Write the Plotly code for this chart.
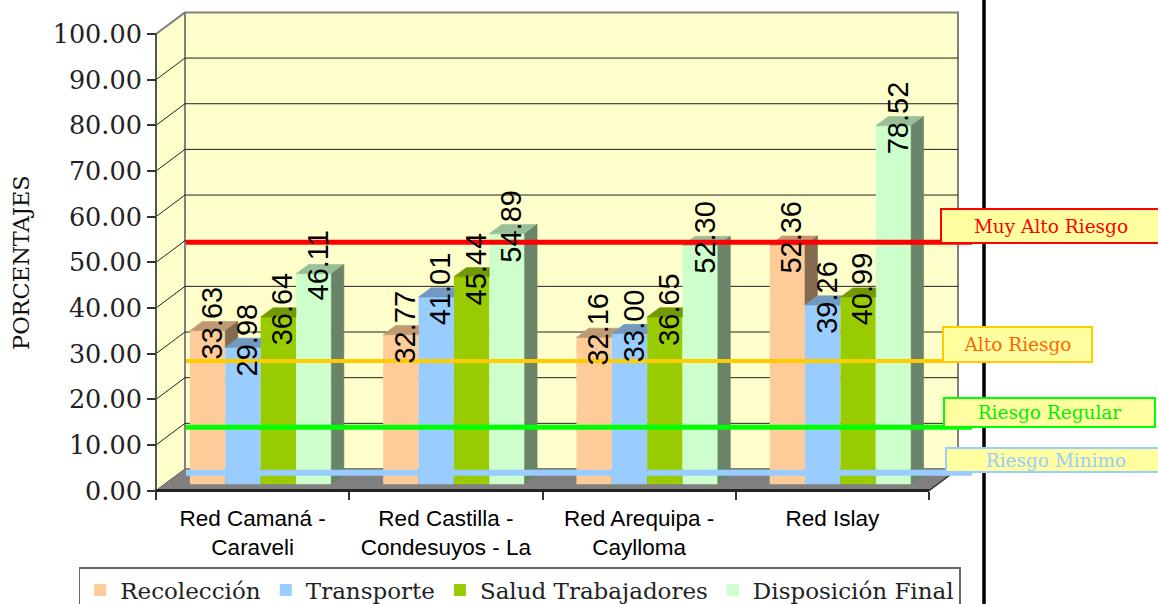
import plotly.graph_objects as go

# ---------------- data ----------------
categories = ["Red Camaná -<br>Caraveli", "Red Castilla -<br>Condesuyos - La",
              "Red Arequipa -<br>Caylloma", "Red Islay"]
series_names = ["Recolección", "Transporte", "Salud Trabajadores", "Disposición Final"]
recoleccion = [33.63, 32.77, 32.16, 52.36]
transporte = [29.98, 41.01, 33.00, 39.26]
salud_trabajadores = [36.64, 45.44, 36.65, 40.99]
disposicion_final = [46.11, 54.89, 52.30, 78.52]
y_tick_values = [0, 10, 20, 30, 40, 50, 60, 70, 80, 90, 100]
y_tick_labels = ["0.00", "10.00", "20.00", "30.00", "40.00", "50.00",
                 "60.00", "70.00", "80.00", "90.00", "100.00"]
y_title = "PORCENTAJES"
risk_names = ["Muy Alto Riesgo", "Alto Riesgo", "Riesgo Regular", "Riesgo Minimo"]
risk_levels = [54.4, 28.4, 13.9, 3.9]

series_values = [recoleccion, transporte, salud_trabajadores, disposicion_final]

# ---------------- styles ----------------
front_colors = ["#FFCC99", "#99CCFF", "#99CC00", "#CCFFCC"]
risk_colors = ["#FF0000", "#FFCC00", "#00FF00", "#99CCFF"]
risk_text_colors = ["#FF0000", "#FF6600", "#00EE00", "#99CCFF"]
risk_widths = [5, 4, 5, 6]
# label boxes: left px, top px, width px, height px
risk_boxes = [(940, 208, 222, 36), (942, 326, 151, 37), (943, 397, 213, 31), (945, 447, 222, 26)]


def shade(hexc, f):
    hexc = hexc.lstrip("#")
    r, g, b = (int(hexc[i:i + 2], 16) for i in (0, 2, 4))
    return "#%02X%02X%02X" % (int(r * f), int(g * f), int(b * f))


# ---------------- geometry (pseudo 3D) ----------------
W, H = 1158, 604
X0_PX, CAT_PX = 156.0, 193.25       # front axis x, px per category
Y0_PX, UNIT_PX = 490.6, 4.566       # front zero y, px per value unit
DX = 29.0 / CAT_PX                  # depth offset (x units)
DY = 21.6 / UNIT_PX                 # depth offset (value units)
F1, FD = 0.29, 0.43                 # bar front depth fraction, bar depth fraction
BX0, BW = 0.132, 0.183              # bar start within category, bar width
NC = len(categories)
YMAX = y_tick_values[-1]

x_range = [-X0_PX / CAT_PX, (W - X0_PX) / CAT_PX]
y_range = [(Y0_PX - H) / UNIT_PX, Y0_PX / UNIT_PX]

fig = go.Figure()

# ---------------- bars (front faces) ----------------
base = F1 * DY
for s, (name, vals) in enumerate(zip(series_names, series_values)):
    xs = [c + BX0 + s * BW + BW / 2 + F1 * DX for c in range(NC)]
    fig.add_trace(go.Bar(x=xs, y=vals, base=base, width=BW, name=name,
                         marker=dict(color=front_colors[s], line=dict(width=0)),
                         hoverinfo="skip"))

# ---------------- bar top / side faces ----------------
ddx, ddy = FD * DX, FD * DY
for s, vals in enumerate(series_values):
    top_col = shade(front_colors[s], 0.75)
    side_col = shade(front_colors[s], 0.52)
    for c in range(NC):
        xl = c + BX0 + s * BW + F1 * DX
        xr = xl + BW
        t = base + vals[c]
        if s < len(series_values) - 1:
            tn = base + series_values[s + 1][c]
        else:
            tn = None
        # top face (trimmed where the next, taller bar hides it)
        h = 0.0 if tn is None else min(max(tn - t, 0.0), ddy)
        px_ = [xl, xr, xr, xr + ddx * (1 - h / ddy), xl + ddx, xl]
        py_ = [t, t, t + h, t + ddy, t + ddy, t]
        fig.add_trace(go.Scatter(x=px_, y=py_, fill="toself", fillcolor=top_col, mode="lines",
                                 line=dict(color=top_col, width=0.6), showlegend=False,
                                 hoverinfo="skip"))
        # side face (only the part above the next bar)
        lo = base if tn is None else tn
        if lo < t:
            px_ = [xr, xr, xr + ddx, xr + ddx, xr]
            py_ = [lo, t, t + ddy, lo + ddy, lo]
            fig.add_trace(go.Scatter(x=px_, y=py_, fill="toself", fillcolor=side_col, mode="lines",
                                     line=dict(color=side_col, width=0.6), showlegend=False,
                                     hoverinfo="skip"))

# ---------------- risk lines ----------------
RX0, RX1 = (186 - X0_PX) / CAT_PX, (972 - X0_PX) / CAT_PX
for lvl, col, wd in zip(risk_levels, risk_colors, risk_widths):
    fig.add_trace(go.Scatter(x=[RX0, RX1], y=[lvl, lvl], mode="lines",
                             line=dict(color=col, width=wd), showlegend=False, hoverinfo="skip"))

# ---------------- walls, floor, grid (shapes below traces) ----------------
shapes = []


def path(pts):
    return "M " + " L ".join("%f,%f" % p for p in pts) + " Z"


shapes.append(dict(type="path", xref="x", yref="y", layer="below",
                   path=path([(0, 0), (0, YMAX), (DX, YMAX + DY), (DX, DY)]),
                   fillcolor="#FFFFCC", line=dict(width=0)))
shapes.append(dict(type="rect", xref="x", yref="y", layer="below",
                   x0=DX, x1=NC + DX, y0=DY, y1=YMAX + DY,
                   fillcolor="#FFFFCC", line=dict(color="#808080", width=2)))
for v in y_tick_values[1:-1]:
    shapes.append(dict(type="line", xref="x", yref="y", layer="below",
                       x0=DX, x1=NC + DX, y0=v + DY, y1=v + DY,
                       line=dict(color="#222222", width=1)))
for v in y_tick_values[:-1]:
    shapes.append(dict(type="line", xref="x", yref="y", layer="below",
                       x0=0, x1=DX, y0=v, y1=v + DY,
                       line=dict(color="#222222", width=1)))
shapes.append(dict(type="line", xref="x", yref="y", layer="below",
                   x0=0, x1=DX, y0=YMAX, y1=YMAX + DY, line=dict(color="#808080", width=2)))
shapes.append(dict(type="path", xref="x", yref="y", layer="below",
                   path=path([(0, 0), (NC, 0), (NC + DX, DY), (DX, DY)]),
                   fillcolor="#808080", line=dict(width=0)))
shapes.append(dict(type="line", xref="x", yref="y", layer="below",
                   x0=0, x1=0, y0=0, y1=YMAX, line=dict(color="#555555", width=2)))
shapes.append(dict(type="line", xref="x", yref="y", layer="below",
                   x0=0, x1=NC, y0=0, y1=0, line=dict(color="#222222", width=3)))
shapes.append(dict(type="line", xref="x", yref="y", layer="below",
                   x0=NC, x1=NC + DX, y0=0, y1=DY, line=dict(color="#333333", width=1.5)))
# black vertical separator
shapes.append(dict(type="line", xref="paper", yref="paper", layer="above",
                   x0=984 / W, x1=984 / W, y0=0, y1=1, line=dict(color="black", width=3.5)))

# ---------------- annotations ----------------
annotations = []
for s, vals in enumerate(series_values):
    for c in range(NC):
        xl = c + BX0 + s * BW + F1 * DX
        annotations.append(dict(x=xl + BW / 2 + 4 / CAT_PX, y=base + vals[c] + 8 / UNIT_PX,
                                xref="x", yref="y", text="%.2f" % vals[c], textangle=-90,
                                showarrow=False, xanchor="center", yanchor="middle",
                                font=dict(family="Liberation Sans, Arial", size=29, color="black")))
for name, tcol, bcol, (lx, ty, bw, bh) in zip(risk_names, risk_text_colors, risk_colors, risk_boxes):
    annotations.append(dict(x=lx / W, y=(H - ty) / H, xref="paper", yref="paper",
                            xanchor="left", yanchor="top", text=name, showarrow=False,
                            width=bw - 4, height=bh - 4, align="center", valign="middle",
                            bgcolor="#FFFFA0", bordercolor=bcol, borderwidth=2, borderpad=0,
                            font=dict(family="DejaVu Serif", size=18.5, color=tcol)))
# y-axis title, centred on the 0-100 span of the axis
annotations.append(dict(x=21.7 / W, y=YMAX / 2, xref="paper", yref="y", text=y_title,
                        textangle=-90, showarrow=False, xanchor="center", yanchor="middle",
                        font=dict(family="DejaVu Serif", size=22.5, color="#111111")))

fig.update_layout(
    width=W, height=H,
    margin=dict(l=0, r=0, t=0, b=0, autoexpand=False),
    paper_bgcolor="white", plot_bgcolor="white",
    barmode="overlay",
    shapes=shapes, annotations=annotations,
    xaxis=dict(range=x_range, domain=[0, 1], anchor="free", position=(H - Y0_PX) / H,
               tickmode="array", tickvals=[c + 0.5 for c in range(NC)], ticktext=categories,
               ticks="", showgrid=False, zeroline=False, showline=False, automargin=False,
               tickfont=dict(family="Liberation Sans, Arial", size=22.5, color="black"),
               ticklabelstandoff=12,
               minor=dict(tickmode="array", tickvals=list(range(NC + 1)), ticks="outside",
                          ticklen=8, tickwidth=1.5, tickcolor="#333333", showgrid=False)),
    yaxis=dict(range=y_range, domain=[0, 1], anchor="free", position=X0_PX / W,
               tickmode="array", tickvals=y_tick_values, ticktext=y_tick_labels,
               ticks="outside", ticklen=9, tickwidth=1.5, tickcolor="#333333",
               showgrid=False, zeroline=False, showline=False, automargin=False,
               tickfont=dict(family="DejaVu Serif", size=25.5, color="#222222")),
    legend=dict(orientation="h", x=78.7 / W, xanchor="left", y=(H - 567) / H, yanchor="top",
                bgcolor="white", bordercolor="#666666", borderwidth=1.5, traceorder="normal",
                font=dict(family="DejaVu Serif", size=23, color="#222222")),
)

fig.write_html("out.html", config={"displayModeBar": False},
               post_script="document.body.style.margin='0';document.body.style.overflow='hidden';")
